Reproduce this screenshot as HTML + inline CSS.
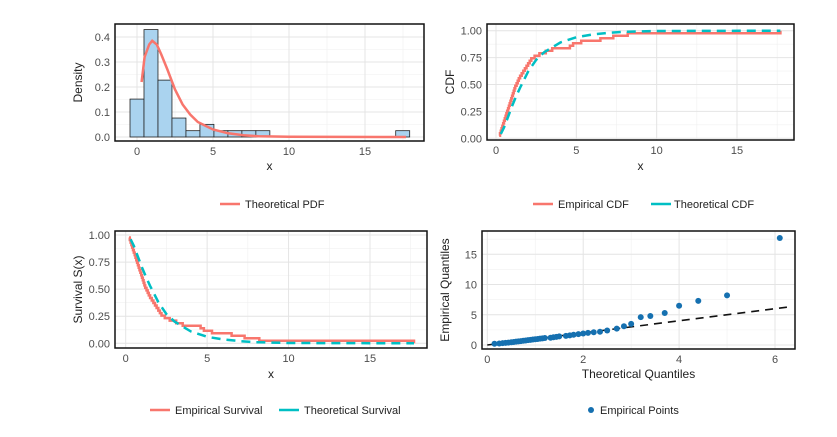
<!DOCTYPE html>
<html><head><meta charset="utf-8"><style>
body{margin:0;background:#fff;}
svg{display:block;font-family:"Liberation Sans",Arial,sans-serif;}
</style></head><body>
<svg id="chart" width="837" height="437"></svg>
<script>
// ---- data ----
const sample = [0.2,0.25,0.3,0.35,0.4,0.45,
 0.5,0.55,0.6,0.65,0.7,0.75,0.8,0.85,0.9,0.95,1.0,1.05,1.1,1.15,1.2,1.28,1.35,
 1.42,1.5,1.6,1.7,1.8,1.9,2.0,2.1,2.2,
 2.4,2.7,3.1,3.5,4.6,4.8,5.3,6.5,7.3,8.2,17.7];
const binStart = -0.46;
const binWidth = 0.92;
const pdfX = [0.3,0.5,0.8,1.0,1.3,1.6,2.0,2.5,3.0,3.5,4.0,5.0,6.0,7.0,8.0,10.0,17.7];
const pdfY = [0.22,0.32,0.37,0.385,0.37,0.33,0.27,0.19,0.13,0.09,0.06,0.03,0.015,0.007,0.003,0.001,0];
const cdfX = [0.3,0.5,0.75,1.0,1.25,1.5,2.0,2.5,3.0,4.0,5.0,6.0,7.0,8.0,10.0,17.7];
const cdfY = [0.04,0.1,0.2,0.3,0.39,0.47,0.62,0.73,0.8,0.89,0.94,0.965,0.98,0.99,0.997,1.0];
const theoQ = [0.15,0.25,0.32,0.38,0.44,0.5,0.55,0.6,0.65,0.7,0.75,0.8,0.85,0.9,0.95,1.0,
 1.05,1.1,1.15,1.2,1.32,1.38,1.44,1.5,1.64,1.72,1.8,1.9,2.0,2.1,2.22,2.35,
 2.5,2.7,2.85,3.0,3.2,3.4,3.7,4.0,4.4,5.0,6.1];
const xTicks = [0,5,10,15];
const densTicks = [0,0.1,0.2,0.3,0.4];
const probTicks = [0,0.25,0.5,0.75,1];
const probLabels = ["0.00","0.25","0.50","0.75","1.00"];
const qxTicks = [0,2,4,6];
const qyTicks = [0,5,10,15];

const NS="http://www.w3.org/2000/svg";
const svg=document.getElementById('chart');
function el(tag,attrs,parent){const e=document.createElementNS(NS,tag);for(const k in attrs)e.setAttribute(k,attrs[k]);(parent||svg).appendChild(e);return e;}
function lin(d0,d1,r0,r1){return v=>r0+(v-d0)/(d1-d0)*(r1-r0);}
const RED="#f8766d", TEAL="#00bfc4", PT="#1570b0";

function panel(name,box,sx,sy,xt,xl,yt,yl,xminor,yminor,xTitle,yTitle,xTitleY){
  const g=el('g',{});
  
  
  xminor.forEach(v=>el('line',{x1:sx(v),x2:sx(v),y1:box.y0,y2:box.y1,stroke:'#f0f0f0','stroke-width':0.6},g));
  yminor.forEach(v=>el('line',{x1:box.x0,x2:box.x1,y1:sy(v),y2:sy(v),stroke:'#f0f0f0','stroke-width':0.6},g));
  xt.forEach((v,i)=>{el('line',{x1:sx(v),x2:sx(v),y1:box.y0,y2:box.y1,stroke:'#e4e4e4','stroke-width':1},g);
    const t=el('text',{x:sx(v),y:box.y1+14,'text-anchor':'middle','font-size':11,fill:'#4d4d4d'},g);t.textContent=xl[i];
    });
  yt.forEach((v,i)=>{el('line',{x1:box.x0,x2:box.x1,y1:sy(v),y2:sy(v),stroke:'#e4e4e4','stroke-width':1},g);
    const t=el('text',{x:box.x0-5,y:sy(v)+4,'text-anchor':'end','font-size':11,fill:'#4d4d4d'},g);t.textContent=yl[i];
    });
  const xt2=el('text',{x:(box.x0+box.x1)/2,y:xTitleY,'text-anchor':'middle','font-size':12,fill:'#222'},g);xt2.textContent=xTitle;
  
  const cy=(box.y0+box.y1)/2, cx=box.x0-33;
  const yt2=el('text',{x:cx,y:cy,'text-anchor':'middle','font-size':12,fill:'#222',transform:`rotate(-90 ${cx} ${cy})`},g);yt2.textContent=yTitle;
  
  return g;
}
function frame(box,g){el('rect',{x:box.x0,y:box.y0,width:box.x1-box.x0,height:box.y1-box.y0,fill:'none',stroke:'#111','stroke-width':1.5},g);}
function legend(items,y){
  items.forEach(it=>{
    const g=el('g',{});
    
    
    if(it.dot){el('circle',{cx:it.x+8,cy:y,r:3,fill:PT},g);}
    else el('line',{x1:it.x,x2:it.x+20,y1:y,y2:y,stroke:it.c,'stroke-width':2.5},g);
    const t=el('text',{x:it.tx,y:y+4,'font-size':11,fill:'#222'},g);t.textContent=it.label;
  });
}
function pathD(xs,ys,sx,sy){return xs.map((v,i)=>(i?'L':'M')+sx(v).toFixed(1)+','+sy(ys[i]).toFixed(1)).join(' ');}
const minor5=[2.5,7.5,12.5,17.5];

// ---- panel 1: histogram ----
{
const box={x0:115,x1:424,y0:24,y1:141};
const sx=lin(0,15,137,365), sy=lin(0,0.4,137,37);
const g=panel('density-panel',box,sx,sy,xTicks,xTicks.map(String),densTicks,densTicks.map(v=>v.toFixed(1)),minor5,[0.05,0.15,0.25,0.35],'x','Density',170);
const n=sample.length, nb=Math.ceil((Math.max(...sample)-binStart)/binWidth);
const counts=new Array(nb).fill(0);
sample.forEach(v=>{counts[Math.min(nb-1,Math.floor((v-binStart)/binWidth))]++;});
counts.forEach((c,k)=>{
  const d=c/(n*binWidth);
  const a=binStart+k*binWidth;
  const r=el('rect',{x:sx(a),y:sy(d),width:sx(a+binWidth)-sx(a),height:sy(0)-sy(d),fill:'#aad3ef',stroke:'#222','stroke-width':0.8},g);
  
  
});
const p=el('path',{d:pathD(pdfX,pdfY,sx,sy),fill:'none',stroke:RED,'stroke-width':2.5},g);


frame(box,g);
legend([{x:220,tx:245,c:RED,label:'Theoretical PDF'}],204);
}
// ecdf step path
function stepPath(sx,sy,surv){
  const s=[...sample].sort((a,b)=>a-b), n=s.length;
  let d='';
  s.forEach((v,i)=>{const f=(i+1)/n, fp=i/n;
    const y=surv?1-f:f, yp=surv?1-fp:fp;
    if(i===0)d+=`M${sx(v).toFixed(1)},${sy(y).toFixed(1)}`;
    else d+=` L${sx(v).toFixed(1)},${sy(yp).toFixed(1)} L${sx(v).toFixed(1)},${sy(y).toFixed(1)}`;});
  return d;
}
// ---- panel 2: CDF ----
{
const box={x0:487,x1:794,y0:24,y1:140};
const sx=lin(0,15,496,737), sy=lin(0,1,138.3,30.7);
const g=panel('cdf-panel',box,sx,sy,xTicks,xTicks.map(String),probTicks,probLabels,minor5,[0.125,0.375,0.625,0.875],'x','CDF',170);
const e=el('path',{d:stepPath(sx,sy,false),fill:'none',stroke:RED,'stroke-width':2.5},g);


const t=el('path',{d:pathD(cdfX,cdfY,sx,sy),fill:'none',stroke:TEAL,'stroke-width':2.5,'stroke-dasharray':'9,6'},g);


frame(box,g);
legend([{x:533,tx:558,c:RED,label:'Empirical CDF'},{x:651,tx:674,c:TEAL,label:'Theoretical CDF'}],204);
}
// ---- panel 3: survival ----
{
const box={x0:115,x1:427,y0:231,y1:348};
const sx=lin(0,15,125.7,370), sy=lin(0,1,343.3,235);
const g=panel('survival-panel',box,sx,sy,xTicks,xTicks.map(String),probTicks,probLabels,minor5,[0.125,0.375,0.625,0.875],'x','Survival S(x)',378);
const e=el('path',{d:stepPath(sx,sy,true),fill:'none',stroke:RED,'stroke-width':2.5},g);


const t=el('path',{d:pathD(cdfX,cdfY.map(v=>1-v),sx,sy),fill:'none',stroke:TEAL,'stroke-width':2.5,'stroke-dasharray':'9,6'},g);


frame(box,g);
legend([{x:150,tx:175,c:RED,label:'Empirical Survival'},{x:279,tx:304,c:TEAL,label:'Theoretical Survival'}],410);
}
// ---- panel 4: QQ ----
{
const box={x0:482,x1:795,y0:231,y1:349};
const sx=lin(0,6,487.3,775), sy=lin(0,15,345,254.3);
const g=panel('qq-panel',box,sx,sy,qxTicks,qxTicks.map(String),qyTicks,qyTicks.map(String),[1,3,5],[2.5,7.5,12.5,17.5],'Theoretical Quantiles','Empirical Quantiles',378);
const ref=el('line',{x1:sx(0),y1:sy(0),x2:sx(6.3),y2:sy(6.3),stroke:'#111','stroke-width':1.6,'stroke-dasharray':'8,6'},g);


const s=[...sample].sort((a,b)=>a-b);
theoQ.forEach((q,i)=>{
  const c=el('circle',{cx:sx(q),cy:sy(s[i]),r:3,fill:PT},g);
  
  
});
frame(box,g);
legend([{x:583,tx:600,dot:true,label:'Empirical Points'}],410);
}
</script>
</body></html>
